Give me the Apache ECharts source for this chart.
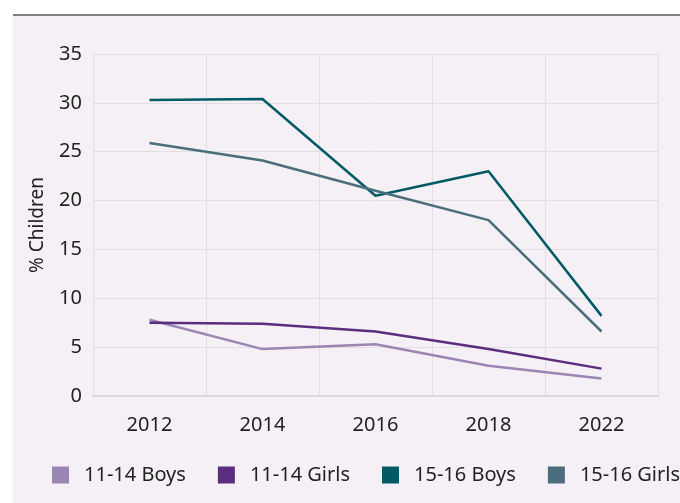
<!DOCTYPE html>
<html>
<head>
<meta charset="utf-8">
<script src="https://cdn.jsdelivr.net/npm/echarts@6/dist/echarts.min.js"></script>
<style>
html,body{margin:0;padding:0;background:#ffffff;}
#chart{width:680px;height:503px;}
</style>
</head>
<body>
<div id="chart"></div>
<script>
var years = ['2012', '2014', '2016', '2018', '2022'];
var boys1114 = [7.8, 4.8, 5.3, 3.1, 1.8];
var girls1114 = [7.5, 7.4, 6.6, 4.8, 2.8];
var boys1516 = [30.3, 30.4, 20.5, 23.0, 8.2];
var girls1516 = [25.9, 24.1, 21.0, 18.0, 6.6];
var seriesNames = ['11-14 Boys', '11-14 Girls', '15-16 Boys', '15-16 Girls'];
var seriesColors = ['#9b86b3', '#5a2d7f', '#015a66', '#4a6e7b'];
var yTicks = { min: 0, max: 35, interval: 5 };

var font = 'Noto Sans';
var chart = echarts.init(document.getElementById('chart'));
var dataSets = [boys1114, girls1114, boys1516, girls1516];

chart.setOption({
  backgroundColor: '#ffffff',
  animation: false,
  graphic: [
    { type: 'rect', z: -100, silent: true, shape: { x: 13, y: 15, width: 667, height: 488 }, style: { fill: '#f4f0f5' } },
    { type: 'rect', z: -99, silent: true, shape: { x: 13, y: 14, width: 667, height: 2 }, style: { fill: '#808080' } }
  ],
  grid: { left: 93, right: 22, top: 54, bottom: 107, containLabel: false },
  legend: {
    data: seriesNames,
    left: 47, top: 460, width: 760,
    icon: 'rect',
    itemWidth: 17, itemHeight: 17,
    itemGap: 32,
    textStyle: { fontFamily: font, fontSize: 20, color: '#222', padding: [0, 0, 0, 10] }
  },
  xAxis: {
    type: 'category',
    data: years,
    boundaryGap: true,
    axisLine: { show: true, lineStyle: { color: '#dcd8dd', width: 2 } },
    axisTick: { show: false },
    axisLabel: { fontFamily: font, fontSize: 20, color: '#222', margin: 19 },
    splitLine: { show: true, lineStyle: { color: '#e2dee4', width: 1 } }
  },
  yAxis: {
    type: 'value',
    min: yTicks.min, max: yTicks.max, interval: yTicks.interval,
    name: '% Children',
    nameLocation: 'middle',
    nameGap: 46,
    nameTextStyle: { fontFamily: font, fontSize: 19, color: '#222' },
    axisLine: { show: false },
    axisTick: { show: false },
    axisLabel: { fontFamily: font, fontSize: 20, color: '#222', margin: 11, padding: [7, 0, 0, 0] },
    splitLine: { show: true, lineStyle: { color: '#e2dee4', width: 1 } }
  },
  series: dataSets.map(function (d, i) {
    return {
      name: seriesNames[i],
      type: 'line',
      data: d,
      symbol: 'none',
      color: seriesColors[i],
      lineStyle: { width: 2.5, color: seriesColors[i] },
      itemStyle: { color: seriesColors[i] }
    };
  })
});
</script>
</body>
</html>
